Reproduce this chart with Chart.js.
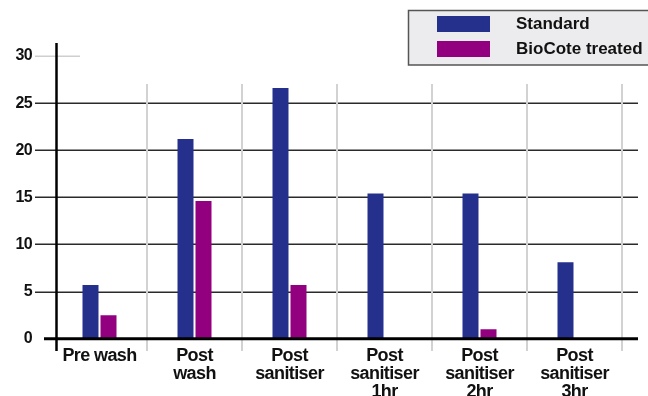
<!DOCTYPE html>
<html>
<head>
<meta charset="utf-8">
<script src="https://cdn.jsdelivr.net/npm/chart.js@4/dist/chart.umd.min.js"></script>
<style>
  html, body { margin: 0; padding: 0; background: #ffffff; }
  #wrap { width: 648px; height: 396px; position: relative; }
</style>
</head>
<body>
<div id="wrap"><canvas id="c" width="648" height="396"></canvas></div>
<script>
const categories = [
  ['Pre wash'],
  ['Post', 'wash'],
  ['Post', 'sanitiser'],
  ['Post', 'sanitiser', '1hr'],
  ['Post', 'sanitiser', '2hr'],
  ['Post', 'sanitiser', '3hr']
];
const seriesNames = ['Standard', 'BioCote treated'];
const standardValues = [5.7, 21.2, 26.6, 15.4, 15.4, 8.1];
const biocoteValues = [2.5, 14.6, 5.7, 0, 1.0, 0];
const yTickValues = [0, 5, 10, 15, 20, 25, 30];

const BLUE = '#25308d';
const MAGENTA = '#93007f';
const FONT = '"Liberation Sans", Arial, Helvetica, sans-serif';

const gridPlugin = {
  id: 'customGrid',
  beforeDraw(chart) {
    chart.ctx.letterSpacing = '-0.6px';
  },
  beforeDatasetsDraw(chart) {
    const ctx = chart.ctx;
    ctx.letterSpacing = '0px';
    const y = chart.scales.y;
    const x = chart.scales.x;
    ctx.save();
    // horizontal grid lines
    yTickValues.forEach(v => {
      if (v === 0) return;
      const py = Math.round(y.getPixelForValue(v)) + 0.25;
      ctx.beginPath();
      if (v === yTickValues[yTickValues.length - 1]) {
        ctx.strokeStyle = '#cfcfcf';
        ctx.lineWidth = 1.5;
        ctx.moveTo(35, py);
        ctx.lineTo(80, py);
      } else {
        ctx.strokeStyle = '#2a2a2a';
        ctx.lineWidth = 1.5;
        ctx.moveTo(35, py);
        ctx.lineTo(638, py);
      }
      ctx.stroke();
    });
    // vertical category separators
    const n = categories.length;
    const step = x.getPixelForTick(1) - x.getPixelForTick(0);
    ctx.strokeStyle = '#d2d2d2';
    ctx.lineWidth = 2;
    for (let i = 0; i < n; i++) {
      const px = x.getPixelForTick(i) + step / 2;
      ctx.beginPath();
      ctx.moveTo(px, 84);
      ctx.lineTo(px, 351);
      ctx.stroke();
    }
    // y axis line
    ctx.strokeStyle = '#000';
    ctx.lineWidth = 2.5;
    ctx.beginPath();
    ctx.moveTo(56.5, 43);
    ctx.lineTo(56.5, 351);
    ctx.stroke();
    ctx.restore();
  },
  afterDatasetsDraw(chart) {
    const ctx = chart.ctx;
    const y = chart.scales.y;
    const py = y.getPixelForValue(0);
    ctx.save();
    ctx.strokeStyle = '#000';
    ctx.lineWidth = 3;
    ctx.beginPath();
    ctx.moveTo(44, py);
    ctx.lineTo(638, py);
    ctx.stroke();
    ctx.restore();
  },
  afterDraw(chart) {
    const ctx = chart.ctx;
    ctx.save();
    ctx.letterSpacing = '0px';
    ctx.fillStyle = '#ececee';
    ctx.strokeStyle = '#555';
    ctx.lineWidth = 1.5;
    ctx.fillRect(408.5, 10.5, 260, 54.5);
    ctx.strokeRect(408.5, 10.5, 260, 54.5);
    chart.data.datasets.forEach((ds, i) => {
      const top = 16 + i * 25;
      ctx.fillStyle = ds.backgroundColor;
      ctx.fillRect(437, top, 53, 16);
      ctx.fillStyle = '#111';
      ctx.font = 'bold 17px ' + FONT;
      ctx.textBaseline = 'middle';
      ctx.textAlign = 'left';
      ctx.fillText(ds.label, 516, top + 8.5);
    });
    ctx.restore();
  }
};

new Chart(document.getElementById('c'), {
  type: 'bar',
  data: {
    labels: categories,
    datasets: [
      { label: seriesNames[0], data: standardValues, backgroundColor: BLUE, borderWidth: 0 },
      { label: seriesNames[1], data: biocoteValues, backgroundColor: MAGENTA, borderWidth: 0 }
    ]
  },
  options: {
    responsive: false,
    animation: false,
    devicePixelRatio: 1,
    categoryPercentage: 0.379,
    barPercentage: 0.889,
    layout: { padding: { top: 56, right: 26, left: 0, bottom: 0 } },
    plugins: {
      legend: { display: false },
      tooltip: { enabled: false },
      title: { display: false }
    },
    scales: {
      x: {
        offset: true,
        grid: { display: false, drawTicks: false },
        border: { display: false },
        ticks: {
          color: '#111',
          font: { family: FONT, size: 18, weight: 'bold', lineHeight: '18px' },
          padding: 8,
          maxRotation: 0,
          autoSkip: false
        },
        afterFit(scale) { scale.height = 57.3; }
      },
      y: {
        min: 0,
        max: 30,
        grid: { display: false, drawTicks: false },
        border: { display: false },
        ticks: {
          stepSize: 5,
          color: '#111',
          font: { family: FONT, size: 16, weight: 'bold' },
          padding: 20
        },
        afterFit(scale) { scale.width = 52; }
      }
    }
  },
  plugins: [gridPlugin]
});
</script>
</body>
</html>
